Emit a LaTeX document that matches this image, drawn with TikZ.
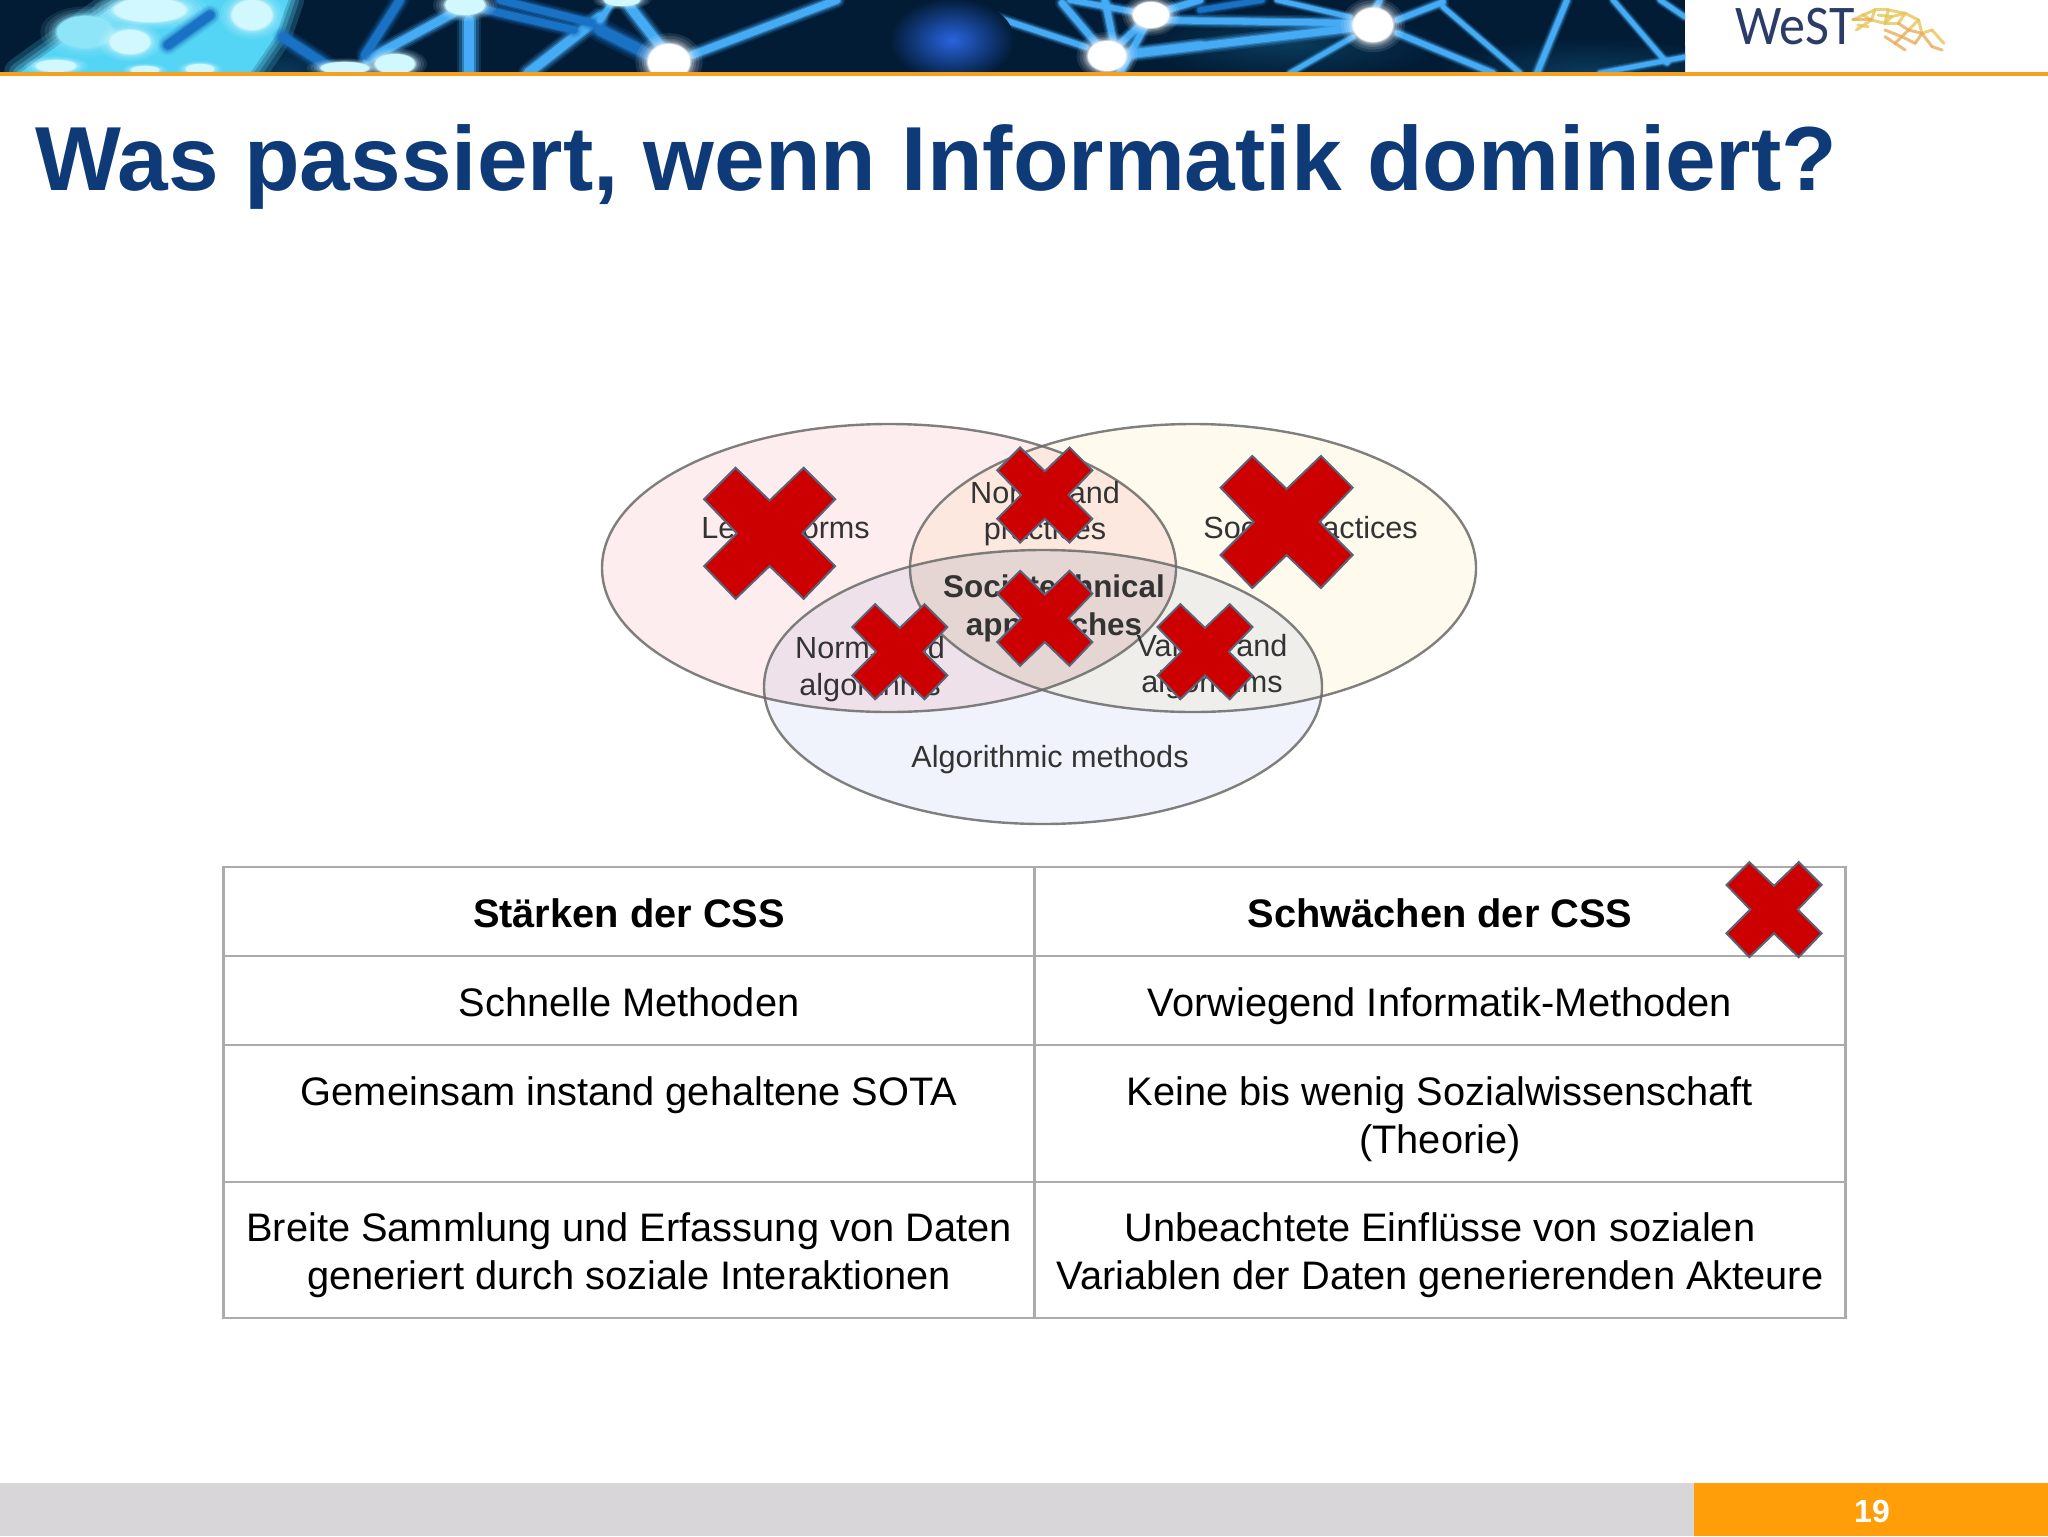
\documentclass[tikz,border=0pt]{standalone}
\usepackage{fontspec}
\setmainfont{Liberation Sans}
\newfontfamily\logofont[FakeStretch=0.93]{Carlito}
\definecolor{titleblue}{HTML}{0F3A78}
\definecolor{bannerdark}{HTML}{021C36}
\definecolor{wire}{HTML}{45ABF5}
\definecolor{wiredark}{HTML}{1A72C4}
\definecolor{cyanmass}{HTML}{55D5F5}
\definecolor{palecyan}{HTML}{D2F8FF}
\definecolor{midcyan}{HTML}{8FE5F8}
\definecolor{tealdark}{HTML}{0A3A5A}
\definecolor{rulegold}{HTML}{F5A01E}
\definecolor{barorange}{HTML}{FF9E08}
\definecolor{bargrey}{HTML}{D8D6D9}
\definecolor{tablerule}{HTML}{ABABAB}
\definecolor{crossred}{HTML}{CC0000}
\definecolor{crossedge}{HTML}{5A6478}
\definecolor{vennpink}{HTML}{FDEDEE}
\definecolor{vennyellow}{HTML}{FEFAEE}
\definecolor{vennblue}{HTML}{F0F3FB}
\definecolor{vennedge}{HTML}{6A6A68}
\definecolor{venntext}{HTML}{333333}
\definecolor{logonavy}{HTML}{2C3C68}
\definecolor{meshgold}{HTML}{E6C65A}
\definecolor{meshorange}{HTML}{E8AE5E}
\newcommand{\pxfont}[1]{\pgfmathsetmacro\pxa{#1*0.5}\pgfmathsetmacro\pxb{#1*0.6}\fontsize{\pxa}{\pxb}\selectfont}
\newcommand{\glowline}[3]{%
  \draw[#1,line width=#2*1pt,opacity=.15,line cap=round] #3;
  \draw[#1,line width=#2*.8pt,opacity=.25,line cap=round] #3;
  \draw[#1,line width=#2*.6pt,opacity=.5,line cap=round] #3;
  \draw[#1,line width=#2*.45pt,line cap=round] #3;}
\newcommand{\glowblob}[5]{%
  \foreach \s/\o in {1.6/.1,1.45/.12,1.3/.15,1.2/.2,1.1/.3,1.05/.5,1/1}{
    \fill[#5,opacity=\o] (#1,#2) ellipse [x radius=#3*\s,y radius=#4*\s];}}
\newcommand{\softpoly}[2]{%
  \foreach \w/\o in {16/.2,11/.25,7/.35,3/.5}{
    \filldraw[#1,line width=\w pt,opacity=\o,line join=round] #2;}
  \fill[#1] #2;}
\newcommand{\xcross}[3]{%
  \begin{scope}[shift={(#1,#2)},xscale=#3,yscale=#3]
    \draw[crossmark] (-.52,-1)--(0,-.5)--(.52,-1)--(1,-.52)--(.5,0)--(1,.5)--(.52,1)--(0,.5)--(-.52,1)--(-1,.5)--(-.5,0)--(-1,-.52)--cycle;
  \end{scope}}
\tikzset{
  crossmark/.style={fill=crossred,draw=crossedge,line width=1pt,line join=miter},
  vennellipse/.style={draw=vennedge,line width=1.2pt,draw opacity=.85},
  vennlabel/.style={font=\pxfont{30.6},text=venntext,align=center,anchor=center,inner sep=0pt},
  vennbold/.style={vennlabel,font=\bfseries\pxfont{31.4}},
  cellhead/.style={font=\bfseries\pxfont{39.8},anchor=base,inner sep=0pt,text=black},
  celltext/.style={font=\pxfont{39.8},anchor=base,inner sep=0pt,text=black},
  tableline/.style={draw=tablerule,line width=1.1pt},
}
\begin{document}
\begin{tikzpicture}[x=0.5pt,y=-0.5pt]
\useasboundingbox (0,0) rectangle (2048,1536);
\fill[white] (0,0) rectangle (2048,1536);

% banner
\begin{scope}
  \clip (0,0) rectangle (1685,73);
  \fill[bannerdark] (0,0) rectangle (1685,73);
  \shade[inner color=tealdark,outer color=bannerdark] (1590,72) ellipse [x radius=150,y radius=34];
  \shade[inner color=tealdark,outer color=bannerdark] (1290,45) ellipse [x radius=150,y radius=34];
  \shade[inner color=tealdark,outer color=bannerdark] (285,72) ellipse [x radius=55,y radius=32];
  \softpoly{cyanmass}{(20,73) -- (105,12) -- (125,0) -- (288,0) -- (276,35) -- (250,73) -- cycle}
  \glowblob{85}{32}{28}{16}{midcyan}
  \glowblob{150}{10}{36}{12}{palecyan}
  \glowblob{130}{42}{20}{12}{palecyan}
  \glowblob{252}{15}{20}{15}{palecyan}
  \glowblob{200}{69}{14}{5}{palecyan}
  \glowblob{56}{66}{20}{6}{palecyan}
  \glowblob{145}{70}{14}{4}{palecyan}
  \glowline{wiredark}{10}{(168,45) -- (210,15)}
  \glowline{wiredark}{10}{(283,37) -- (329,67)}
  \glowline{wire}{9}{(459,10) -- (367,60)}
  \glowline{wiredark}{9}{(400,0) -- (365,55)}
  \glowline{wire}{12}{(469,20) -- (469,73)}
  \glowline{wire}{10}{(600,17) -- (528,73)}
  \glowline{wiredark}{8}{(474,7) -- (574,30)}
  \glowline{wiredark}{8}{(500,0) -- (600,25)}
  \glowline{wire}{8}{(692,55) -- (837,0)}
  \glowline{wire}{10}{(630,7) -- (661,47)}
  \glowline{wiredark}{12}{(600,30) -- (650,55)}
  \glowline{wire}{6}{(600,20) -- (612,3)}
  \glowline{wire}{6}{(944,0) -- (1086,47)}
  \glowline{wire}{6}{(1070,0) -- (1151,15)}
  \glowline{wire}{7}{(1062,3) -- (1107,56)}
  \glowline{wire}{7}{(1105,0) -- (1115,50)}
  \glowline{wire}{7}{(1151,15) -- (1107,56)}
  \glowline{wire}{7}{(1151,15) -- (1120,73)}
  \glowline{wire}{7}{(1107,56) -- (1200,45)}
  \glowline{wire}{7}{(1151,15) -- (1200,0)}
  \glowline{wire}{7}{(1151,20) -- (1353,23)}
  \glowline{wire}{8}{(1125,55) -- (1353,28)}
  \glowline{wiredark}{6}{(1200,10) -- (1262,0)}
  \glowline{wire}{5}{(1277,0) -- (1350,17)}
  \glowline{wire}{5}{(1290,73) -- (1353,37)}
  \glowline{wire}{6}{(1380,0) -- (1373,13)}
  \glowline{wire}{6}{(1397,20) -- (1443,2)}
  \glowline{wire}{5}{(1443,7) -- (1520,73)}
  \glowline{wire}{6}{(1397,33) -- (1493,73)}
  \glowline{wire}{6}{(1567,0) -- (1537,73)}
  \glowline{wire}{5}{(1613,0) -- (1667,63)}
  \glowline{wire}{5}{(1660,0) -- (1685,17)}
  \glowline{wire}{5}{(1600,73) -- (1685,57)}
  \shade[inner color=blue!35!wire!90!black,outer color=bannerdark] (952,40) ellipse [x radius=62,y radius=42];
  \glowblob{345}{68}{24}{6}{palecyan}
  \glowblob{395}{64}{20}{10}{palecyan}
  \glowblob{465}{5}{20}{10}{palecyan}
  \glowblob{622}{0}{18}{6}{palecyan}
  \glowblob{669}{62}{21}{18}{white}
  \glowblob{1107}{56}{19}{15}{white}
  \glowblob{1151}{15}{18}{13}{white}
  \glowblob{1373}{25}{20}{17}{white}
\end{scope}
\fill[rulegold] (0,72.5) rectangle (2048,76);

% logo
\node[anchor=base west,inner sep=0pt,text=logonavy,font=\logofont\pxfont{56}] (logo) at (1735,45) {WeST};
\begin{scope}[shift={(1730,0)},xscale=.3367,yscale=.3333,line cap=round]
  \foreach \a/\b/\c/\d in {365/60/395/45,395/45/430/30,430/30/470/30,470/30/520/40,520/40/560/60,375/90/420/60,420/60/460/70,460/70/500/70,395/45/420/60,430/30/420/60,470/30/460/70,520/40/500/70,560/60/530/90,570/100/600/90,560/60/570/100,600/90/635/130,440/45/480/50,480/50/520/40,480/50/460/70,380/75/410/80}
    {\draw[meshgold,line width=1.5pt,opacity=.8] (\a,\b) -- (\c,\d);}
  \foreach \a/\b/\c/\d in {500/70/530/90,530/90/570/100,530/90/510/110,510/110/490/130,510/110/550/130,570/100/600/140,550/130/570/100,365/60/420/60,490/130/460/110,510/110/460/90,490/130/520/150,600/140/630/150}
    {\draw[meshorange,line width=1.5pt,opacity=.8] (\a,\b) -- (\c,\d);}
\end{scope}

% title
\node[anchor=base west,inner sep=0pt,text=titleblue,font=\bfseries\pxfont{91}] (title) at (35,190) {Was passiert, wenn Informatik dominiert?};

% venn
\fill[vennpink,blend mode=multiply] (889,568) ellipse [x radius=287,y radius=144];
\fill[vennyellow,blend mode=multiply] (1193,568) ellipse [x radius=283,y radius=144];
\fill[vennblue,blend mode=multiply] (1043,687) ellipse [x radius=279,y radius=137];
\begin{scope}
  \clip (889,568) ellipse [x radius=287,y radius=144];
  \clip (1193,568) ellipse [x radius=283,y radius=144];
  \fill[black,opacity=.03] (1043,687) ellipse [x radius=279,y radius=137];
\end{scope}
\path[vennellipse] (889,568) ellipse [x radius=287,y radius=144];
\path[vennellipse] (1193,568) ellipse [x radius=283,y radius=144];
\path[vennellipse] (1043,687) ellipse [x radius=279,y radius=137];

\node[vennlabel] (legal) at (785.6,531) {Legal norms};
\node[vennlabel] (normsprac) at (1045,513.5) {Norms and\\practices};
\node[vennlabel] (social) at (1310.6,531) {Social practices};
\node[vennbold] (socio) at (1054,608.5) {Sociotechnical\\approaches};
\node[vennlabel] (normsalg) at (870,669) {Norms and\\algorithms};
\node[vennlabel] (valuesalg) at (1212,666.5) {Values and\\algorithms};
\node[vennlabel] (algo) at (1050,760) {Algorithmic methods};

\xcross{769.6}{533.3}{65.5}
\xcross{1044.8}{495}{47.5}
\xcross{1286.6}{522}{66}
\xcross{1044.8}{618.3}{47.5}
\xcross{899.8}{651.7}{47.5}
\xcross{1205}{651.7}{47.5}

% table
\draw[tableline] (223.5,867) rectangle (1845.5,1318);
\draw[tableline] (1034.5,867) -- (1034.5,1318);
\draw[tableline] (223.5,956) -- (1845.5,956);
\draw[tableline] (223.5,1045) -- (1845.5,1045);
\draw[tableline] (223.5,1182) -- (1845.5,1182);

\node[cellhead] (h1) at (629,927.5) {Stärken der CSS};
\node[cellhead] (h2) at (1440,927.5) {Schwächen der CSS};
\node[celltext] (a1) at (629,1016.5) {Schnelle Methoden};
\node[celltext] (b1) at (1440,1016.5) {Vorwiegend Informatik-Methoden};
\node[celltext] (a2) at (629,1105.5) {Gemeinsam instand gehaltene SOTA};
\node[celltext] (b2) at (1440,1105.5) {Keine bis wenig Sozialwissenschaft};
\node[celltext] (b2b) at (1440,1153.5) {(Theorie)};
\node[celltext] (a3) at (629,1241.5) {Breite Sammlung und Erfassung von Daten};
\node[celltext] (a3b) at (629,1289.5) {generiert durch soziale Interaktionen};
\node[celltext] (b3) at (1440,1241.5) {Unbeachtete Einflüsse von sozialen};
\node[celltext] (b3b) at (1440,1289.5) {Variablen der Daten generierenden Akteure};

\xcross{1774}{909.6}{47.5}

% footer
\fill[bargrey] (0,1483) rectangle (1694,1536);
\fill[barorange] (1694,1483) rectangle (2048,1536);
\node[text=white,font=\bfseries\pxfont{32},inner sep=0pt] (page) at (1872,1511) {19};
\end{tikzpicture}
\end{document}
